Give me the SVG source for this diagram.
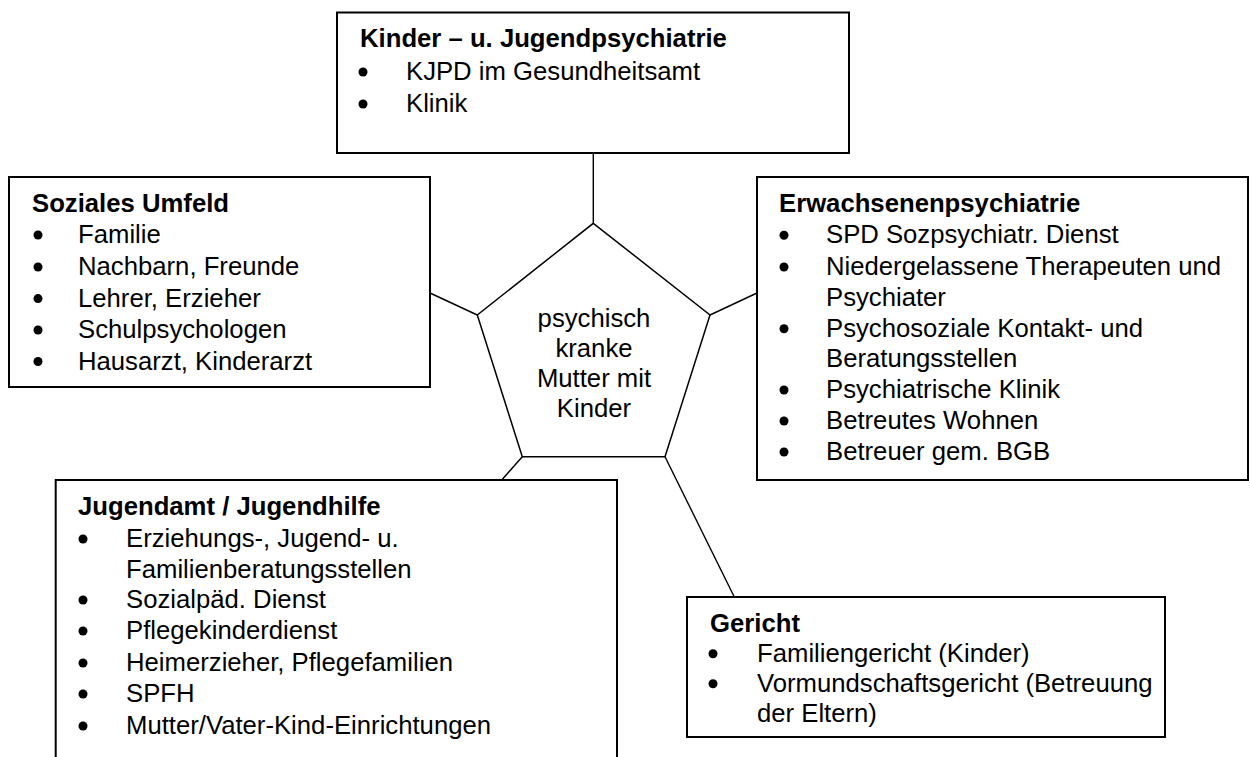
<svg xmlns="http://www.w3.org/2000/svg" width="1250" height="757" viewBox="0 0 1250 757">
<style>
.box{fill:#fff;stroke:#000;stroke-width:2}
.t{font-family:"Liberation Sans",Arial,sans-serif;font-size:25.7px;fill:#000}
.b{font-weight:bold}
.c{stroke:#000;stroke-width:1.4;fill:none}
.mid{text-anchor:middle}
</style>
<defs><circle id="d" r="4.5" fill="#000"/></defs>
<rect width="1250" height="757" fill="#fff"/>
<g id="connectors">
<line class="c" x1="593.3" y1="153" x2="593.3" y2="223.3"/>
<line class="c" x1="477.3" y1="315" x2="430" y2="293"/>
<line class="c" x1="710" y1="315" x2="757" y2="293"/>
<line class="c" x1="522.3" y1="456.7" x2="501.7" y2="480"/>
<line class="c" x1="665" y1="456.7" x2="734.3" y2="597"/>
</g>
<g id="center">
<polygon points="593.3,223.3 710,315 665,456.7 522.3,456.7 477.3,315" fill="#fff" stroke="#000" stroke-width="1.5"/>
<text class="t mid" x="594" y="327">psychisch</text>
<text class="t mid" x="594" y="357">kranke</text>
<text class="t mid" x="594" y="387">Mutter mit</text>
<text class="t mid" x="594" y="417">Kinder</text>
</g>
<g id="kjp">
<rect class="box" x="337" y="12.5" width="512" height="140.5"/>
<text class="t b" x="360" y="47">Kinder – u. Jugendpsychiatrie</text>
<use href="#d" x="363" y="72"/><text class="t" x="406" y="80">KJPD im Gesundheitsamt</text>
<use href="#d" x="363" y="104"/><text class="t" x="406" y="112">Klinik</text>
</g>
<g id="sozial">
<rect class="box" x="9" y="177" width="421" height="210"/>
<text class="t b" x="32" y="211.7">Soziales Umfeld</text>
<use href="#d" x="38" y="235"/><text class="t" x="78" y="243">Familie</text>
<use href="#d" x="38" y="267"/><text class="t" x="78" y="275">Nachbarn, Freunde</text>
<use href="#d" x="38" y="298.6"/><text class="t" x="78" y="306.6">Lehrer, Erzieher</text>
<use href="#d" x="38" y="330"/><text class="t" x="78" y="338">Schulpsychologen</text>
<use href="#d" x="38" y="361.5"/><text class="t" x="78" y="369.5">Hausarzt, Kinderarzt</text>
</g>
<g id="erwachsen">
<rect class="box" x="757" y="177" width="491" height="303"/>
<text class="t b" x="779" y="211.7">Erwachsenenpsychiatrie</text>
<use href="#d" x="784" y="235.3"/><text class="t" x="826" y="243.3">SPD Sozpsychiatr. Dienst</text>
<use href="#d" x="784" y="267"/><text class="t" x="826" y="275">Niedergelassene Therapeuten und</text>
<text class="t" x="826" y="305.5">Psychiater</text>
<use href="#d" x="784" y="328.7"/><text class="t" x="826" y="336.7">Psychosoziale Kontakt- und</text>
<text class="t" x="826" y="367">Beratungsstellen</text>
<use href="#d" x="784" y="390"/><text class="t" x="826" y="398">Psychiatrische Klinik</text>
<use href="#d" x="784" y="421"/><text class="t" x="826" y="429">Betreutes Wohnen</text>
<use href="#d" x="784" y="452"/><text class="t" x="826" y="460">Betreuer gem. BGB</text>
</g>
<g id="jugendamt">
<path d="M55.7,757 V480 H617 V757" fill="#fff" stroke="#000" stroke-width="2"/>
<text class="t b" x="78" y="515">Jugendamt / Jugendhilfe</text>
<use href="#d" x="83" y="539"/><text class="t" x="126" y="547">Erziehungs-, Jugend- u.</text>
<text class="t" x="126" y="577.5">Familienberatungsstellen</text>
<use href="#d" x="83" y="600"/><text class="t" x="126" y="608">Sozialpäd. Dienst</text>
<use href="#d" x="83" y="631"/><text class="t" x="126" y="639">Pflegekinderdienst</text>
<use href="#d" x="83" y="663"/><text class="t" x="126" y="671">Heimerzieher, Pflegefamilien</text>
<use href="#d" x="83" y="694"/><text class="t" x="126" y="702">SPFH</text>
<use href="#d" x="83" y="726"/><text class="t" x="126" y="734">Mutter/Vater-Kind-Einrichtungen</text>
</g>
<g id="gericht">
<rect class="box" x="687" y="597" width="478" height="140"/>
<text class="t b" x="710" y="631.7">Gericht</text>
<use href="#d" x="713" y="653.7"/><text class="t" x="757" y="661.7">Familiengericht (Kinder)</text>
<use href="#d" x="713" y="683.7"/><text class="t" x="757" y="691.7">Vormundschaftsgericht (Betreuung</text>
<text class="t" x="757" y="722">der Eltern)</text>
</g>
</svg>
